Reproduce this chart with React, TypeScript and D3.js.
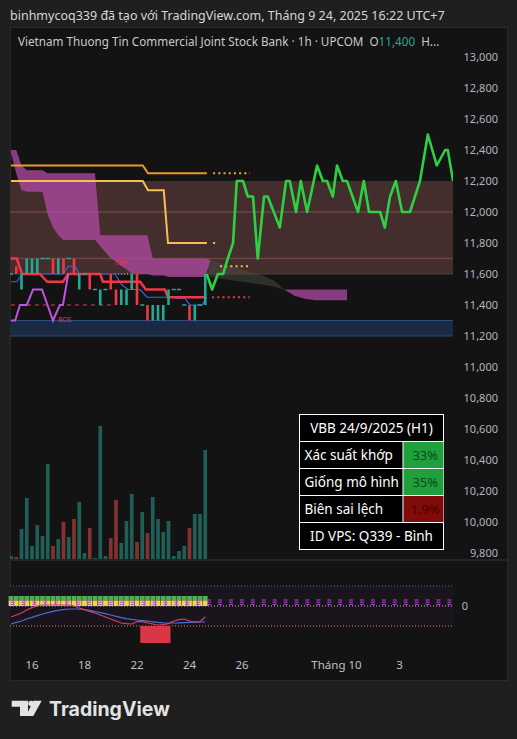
import React from "react";
import * as d3 from "d3";

// ---------- data ----------
const priceTicks = [13000, 12800, 12600, 12400, 12200, 12000, 11800, 11600, 11400, 11200, 11000, 10800, 10600, 10400, 10200, 10000, 9800];
const xTickIdx = [4, 14, 24, 34, 44, 62, 74];
const xTickLabels = ["16", "18", "22", "24", "26", "Tháng 10", "3"];

const candleOpen = [11600, 11650, 11500, 11600, 11600, 11600, 11700, 11700, 11700, 11600, 11700, 11700, 11700, 11500, 11600, 11600, 11500, 11400, 11500, 11600, 11500, 11400, 11400, 11500, 11600, 11400, 11400, 11300, 11300, 11300, 11400, 11500, 11500, 11400, 11400, 11300, 11400, 11400];
const candleClose = [11600, 11600, 11600, 11700, 11700, 11700, 11700, 11700, 11600, 11700, 11600, 11700, 11600, 11600, 11600, 11500, 11500, 11500, 11500, 11500, 11400, 11500, 11500, 11600, 11400, 11400, 11300, 11400, 11400, 11400, 11500, 11500, 11500, 11400, 11300, 11400, 11400, 11600];
const volume = [3, 2, 30, 61, 13, 34, 23, 95, 13, 20, 37, 22, 40, 57, 6, 31, 1, 133, 3, 21, 59, 16, 38, 65, 17, 47, 26, 62, 40, 27, 38, 3, 8, 13, 31, 45, 45, 109];

// Ichimoku-like cloud spans, bar index 0..64
const spanA = [12380, 12250, 12140, 12130, 12130, 12130, 12130, 11980, 11900, 11850, 11820, 11820, 11820, 11820, 11820, 11820, 11820, 11780, 11740, 11700, 11680, 11650, 11630, 11600, 11600, 11600, 11600, 11590, 11590, 11590, 11580, 11580, 11580, 11580, 11580, 11580, 11580, 11580,
  11690, 11680, 11670, 11660, 11650, 11640, 11630, 11620, 11610, 11600, 11590, 11575, 11560, 11530, 11500, 11480, 11460, 11450, 11440, 11435, 11430, 11430, 11430, 11430, 11430, 11430, 11430];
const spanB = [12400, 12400, 12300, 12270, 12270, 12270, 12270, 12250, 12250, 12250, 12250, 12250, 12250, 12250, 12250, 12250, 12250, 11850, 11850, 11850, 11850, 11850, 11850, 11850, 11850, 11850, 11850, 11700, 11700, 11700, 11700, 11700, 11700, 11700, 11700, 11700, 11700, 11700,
  11580, 11575, 11570, 11565, 11560, 11555, 11550, 11545, 11540, 11535, 11530, 11525, 11520, 11510, 11500, 11500, 11500, 11500, 11500, 11500, 11500, 11500, 11500, 11500, 11500, 11500, 11500];

// step lines [barIndex, price]
const orangeTop = [[0, 12300], [25.1, 12300], [26.1, 12250], [37.3, 12250]];
const orangeTopExt = [[38.5, 12250], [45.5, 12250]];
const orangeLow = [[0, 12200], [25.1, 12200], [26.1, 12140], [29.1, 12140], [29.9, 11800], [37.3, 11800]];
const orangeLowExt = [[38.5, 11800], [39.5, 11800]];
const yellowDots = [[39.8, 11650], [45.5, 11650]];
const baseLine = [[0, 11700], [1.1, 11700], [2.1, 11600], [5.5, 11600], [6.9, 11550], [9.9, 11550], [10.9, 11600], [17, 11600], [17.5, 11550], [24.6, 11550], [25.7, 11500], [29.3, 11500], [29.9, 11450], [37, 11450]];
const baseLineExt = [[38.3, 11450], [45.5, 11450]];
const convLine = [[0, 11550], [1.1, 11550], [2.1, 11600], [9.9, 11600], [10.9, 11650], [12.2, 11650], [13, 11600], [19.8, 11600], [21.1, 11530], [22.3, 11500], [24.6, 11500], [25.9, 11450], [30.7, 11450], [31.4, 11445], [33.1, 11445], [34.1, 11400], [36.4, 11400], [37.3, 11450]];
const swingLine = [[0, 11300], [0.8, 11300], [1.7, 11400], [3.0, 11400], [4.2, 11500], [5.9, 11500], [8.0, 11300], [9.3, 11400], [9.9, 11400], [10.9, 11600]];
const dashedLevel = [[0, 11400], [19.8, 11400]];
const whiteDots = [[19.8, 11600], [22.7, 11600]];

// projection
const projIdx = [37.3, 38.3, 39.4, 40.4, 41.3, 42.3, 43.0, 44.2, 45.1, 46.1, 47.0, 48.2, 48.9, 51.2, 52.4, 53.1, 54.3, 55.2, 56.4, 58.3, 59.4, 60.2, 61.3, 62.1, 63.2, 64.0, 66.1, 67.2, 68.2, 70.3, 71.2, 72.2, 73.3, 74.5, 76.0, 77.9, 79.4, 81.1, 82.7, 83.2, 84.2];
const projPrice = [11600, 11500, 11600, 11600, 11700, 11800, 12200, 12200, 12100, 12100, 11700, 12100, 12100, 11900, 12200, 12200, 12000, 12200, 12000, 12300, 12200, 12200, 12100, 12300, 12200, 12200, 12000, 12200, 12000, 12000, 11900, 12100, 12200, 12000, 12000, 12200, 12500, 12300, 12400, 12400, 12200];

// zones
const supplyZone = [11600, 12200];
const supplyLines = [12000, 11700];
const demandZone = [11200, 11300];

// oscillator
const oscBlue = [-90, -82, -75, -65, -57, -48, -40, -33, -27, -22, -18, -15, -15, -15, -18, -22, -28, -33, -38, -45, -52, -58, -63, -67, -70, -73, -76, -79, -82, -84, -85, -85, -84, -83, -82, -81, -80, -80];
const oscRed = [-55, -45, -35, -20, -8, 0, 5, 5, 5, 5, 5, 5, 0, -10, -18, -27, -35, -45, -55, -65, -75, -85, -88, -90, -78, -78, -85, -90, -95, -93, -88, -75, -68, -65, -75, -80, -78, -55];
const oscBox = [25, 30, -100, -185];

const tableTitle = "VBB 24/9/2025 (H1)";
const tableLabels = ["Xác suất khớp", "Giống mô hình", "Biên sai lệch"];
const tableValues = ["33%", "35%", "1.9%"];
const tableFooter = "ID VPS: Q339 - Bình";

// ---------- layout ----------
const W = 517, H = 739;
const PL = 10, PR = 453, PT = 27, PB = 559;
const FONT = "'Noto Sans', 'Liberation Sans', sans-serif";

export default function App() {
  const x = d3.scaleLinear().domain([0, 37]).range([11, 205.25]);
  const y = d3.scaleLinear().domain([9800, 13000]).range([553, 57]);
  const yv = d3.scaleLinear().domain([0, 133]).range([PB, PB - 133]);
  const yo = d3.scaleLinear().domain([-100, 100]).range([626, 586]);

  const ln = d3.line<number[]>().x(d => x(d[0])).y(d => y(d[1]));
  const idx = d3.range(spanA.length);
  const magentaArea = d3.area<number>().x(i => x(i)).y0(i => y(spanA[i])).y1(i => y(Math.max(spanA[i], spanB[i])));
  const grayArea = d3.area<number>().x(i => x(i)).y0(i => y(spanB[i])).y1(i => y(Math.max(spanA[i], spanB[i])));
  const projLine = d3.line<number>().x((_, k) => x(projIdx[k])).y(p => y(p));
  const oscLine = (arr: number[]) => d3.line<number>().x((_, i) => x(i)).y(v => yo(v))(arr) || "";
  const fmt = d3.format(",");

  const teal = "#22ab94", red = "#f23645";

  const tX = 299.5, tY = 414.5, tW = 144, rowH = 27, splitX = 403;

  return (
    <svg width={W} height={H} style={{ position: "fixed", left: 0, top: 0 }} fontFamily={FONT}>
      <defs>
        <clipPath id="plot"><rect x={PL} y={PT} width={PR - PL} height={PB - PT} /></clipPath>
      </defs>
      <rect width={W} height={H} fill="#1f1f1f" />
      <text x={10} y={20} fill="#d6d6d6" fontSize={12.5}>binhmycoq339 đã tạo với TradingView.com, Tháng 9 24, 2025 16:22 UTC+7</text>
      <rect x={10.5} y={27.5} width={497} height={653} fill="#131313" stroke="#2a2a2a" />
      {/* panes separator */}
      <rect x={PL} y={PB} width={497} height={2} fill="#242424" />

      <g clipPath="url(#plot)">
        {/* supply zone */}
        <rect x={PL} y={y(supplyZone[1])} width={PR - PL} height={y(supplyZone[0]) - y(supplyZone[1])} fill="#432d2d" />
        {supplyLines.map((p, i) => <line key={i} x1={PL} x2={PR} y1={y(p)} y2={y(p)} stroke="#6e4545" strokeWidth={1.5} />)}
        <line x1={PL} x2={PR} y1={y(supplyZone[0])} y2={y(supplyZone[0])} stroke="#5a3a3a" strokeWidth={1} />
        {/* demand zone */}
        <rect x={PL} y={y(demandZone[1])} width={PR - PL} height={y(demandZone[0]) - y(demandZone[1])} fill="#1b2942" />
        <line x1={PL} x2={PR} y1={y(demandZone[1])} y2={y(demandZone[1])} stroke="#2c4a7e" strokeWidth={1} />
        <line x1={PL} x2={PR} y1={y(demandZone[0])} y2={y(demandZone[0])} stroke="#2c4a7e" strokeWidth={1} />

        {/* cloud */}
        <path d={grayArea(idx) || ""} fill="#4a4e44" opacity={0.5} />
        <path d={magentaArea(idx) || ""} fill="#b24aa5" opacity={0.75} />

        {/* volume */}
        {volume.map((v, i) => (
          <rect key={i} x={x(i) - 1.85} y={yv(v)} width={3.7} height={PB - yv(v)} fill={candleClose[i] < candleOpen[i] ? "#813331" : "#1f5f57"} />
        ))}

        {/* orange lines */}
        <path d={ln(orangeTop as any) || ""} fill="none" stroke="#f0962e" strokeWidth={2} />
        <path d={ln(orangeTopExt as any) || ""} fill="none" stroke="#f0a640" strokeWidth={2} strokeDasharray="2,3.2" />
        <path d={ln(orangeLow as any) || ""} fill="none" stroke="#f5bf4f" strokeWidth={2} />
        <path d={ln(orangeLowExt as any) || ""} fill="none" stroke="#f5bf4f" strokeWidth={2} strokeDasharray="2,3.2" />
        <path d={ln(yellowDots as any) || ""} fill="none" stroke="#f5c04f" strokeWidth={2} strokeDasharray="2,3.2" />

        {/* structure lines */}
        <path d={ln(dashedLevel as any) || ""} fill="none" stroke={red} strokeWidth={1} strokeDasharray="4,4" />
        <path d={ln(whiteDots as any) || ""} fill="none" stroke="#cccccc" strokeWidth={1} strokeDasharray="1,2" />
        <path d={ln(convLine as any) || ""} fill="none" stroke="#2f6be8" strokeWidth={1.2} />
        <path d={ln(baseLine as any) || ""} fill="none" stroke={red} strokeWidth={2.5} />
        <path d={ln(baseLineExt as any) || ""} fill="none" stroke={red} strokeWidth={2} strokeDasharray="2,3.2" />
        <path d={ln(swingLine as any) || ""} fill="none" stroke="#c053e0" strokeWidth={2} />
        <text x={x(9)} y={y(11300)} fill={red} fontSize={6.5} dy={1}>BOS</text>
        <text x={x(19.8)} y={y(11660)} fill={red} fontSize={6.5} opacity={0.8}>CHP</text>

        {/* candles */}
        {candleOpen.map((o, i) => {
          const c = candleClose[i];
          const col = c < o ? red : teal;
          if (o === c) return <rect key={i} x={x(i) - 2} y={y(c) - 0.75} width={4} height={1.5} fill={col} />;
          return <rect key={i} x={x(i) - 1.3} y={y(Math.max(o, c))} width={2.6} height={Math.abs(y(o) - y(c))} fill={col} />;
        })}

        {/* projection */}
        <path d={projLine(projPrice) || ""} fill="none" stroke="#2ed043" strokeWidth={2.6} strokeLinejoin="round" />
      </g>

      {/* price axis */}
      {priceTicks.map(p => (
        <text key={p} x={498} y={y(p)} dy="0.35em" textAnchor="end" fill="#b2b5be" fontSize={11}>{fmt(p)}</text>
      ))}

      {/* legend title */}
      <text x={18} y={46} fill="#c9c9c9" fontSize={11.7} style={{ whiteSpace: "pre" }}>
        {"Vietnam Thuong Tin Commercial Joint Stock Bank · 1h · UPCOM  O"}<tspan fill="#22ab94">11,400</tspan>{"  H..."}
      </text>

      {/* table */}
      <g>
        <rect x={tX} y={tY} width={tW} height={rowH * 5} fill="#000" stroke="#fff" strokeWidth={1} />
        {tableValues.map((v, k) => (
          <rect key={k} x={splitX} y={tY + rowH * (k + 1)} width={tX + tW - splitX} height={rowH} fill={k < 2 ? "#20a03c" : "#7f0b0b"} />
        ))}
        {d3.range(1, 5).map(r => <line key={r} x1={tX} x2={tX + tW} y1={tY + rowH * r} y2={tY + rowH * r} stroke="#fff" />)}
        <line x1={splitX} x2={splitX} y1={tY + rowH} y2={tY + rowH * 4} stroke="#fff" />
        <text x={tX + tW / 2} y={tY + rowH / 2} dy="0.35em" textAnchor="middle" fill="#fff" fontSize={13.5}>{tableTitle}</text>
        {tableLabels.map((t, k) => (
          <text key={t} x={tX + 5} y={tY + rowH * (k + 1.5)} dy="0.35em" fill="#fff" fontSize={13.5}>{t}</text>
        ))}
        {tableValues.map((t, k) => (
          <text key={t} x={(splitX + tX + tW) / 2 + 2} y={tY + rowH * (k + 1.5)} dy="0.35em" textAnchor="middle" fill={k < 2 ? "#0b4d18" : "#4d0000"} fontSize={13}>{t}</text>
        ))}
        <text x={tX + tW / 2} y={tY + rowH * 4.5} dy="0.35em" textAnchor="middle" fill="#fff" fontSize={13.5}>{tableFooter}</text>
      </g>

      {/* oscillator pane */}
      <rect x={PL} y={yo(100)} width={PR - PL} height={yo(-100) - yo(100)} fill="#1a141c" />
      <line x1={PL} x2={PR} y1={yo(100)} y2={yo(100)} stroke="#2a7c78" strokeDasharray="1,2" />
      <line x1={PL} x2={PR} y1={yo(0)} y2={yo(0)} stroke="#bbbbbb" strokeDasharray="1,2" />
      <line x1={PL} x2={PR} y1={yo(-100)} y2={yo(-100)} stroke="#d08a2c" strokeDasharray="1,2" />
      {candleOpen.map((_, i) => (
        <g key={i}>
          <rect x={x(i) - 2.4} y={596} width={4.8} height={4.5} fill="#4caf50" />
          <rect x={x(i) - 2.4} y={600.5} width={4.8} height={5.5} fill="#e8d84a" />
        </g>
      ))}
      {d3.range(0.3, 84, 2.08).map((i, k) => (
        <g key={k} fill="#b64ad8">
          <rect x={x(i) - 2} y={599.5} width={4} height={1} />
          <rect x={x(i) - 2} y={601.7} width={4} height={1} />
          <rect x={x(i) - 2} y={603.9} width={4} height={1} />
        </g>
      ))}
      <path d={oscLine(oscBlue)} fill="none" stroke="#4a6cd4" strokeWidth={1.2} />
      <path d={oscLine(oscRed)} fill="none" stroke="#d4416a" strokeWidth={1.2} />
      <rect x={x(oscBox[0]) - 2} y={yo(oscBox[2])} width={x(oscBox[1]) - x(oscBox[0]) + 4} height={yo(oscBox[3]) - yo(oscBox[2])} fill="#d93647" />
      <text x={465} y={yo(0)} dy="0.35em" textAnchor="middle" fill="#b2b5be" fontSize={11}>0</text>

      {/* time axis */}
      {xTickIdx.map((i, k) => (
        <text key={k} x={x(i)} y={665} dy="0.35em" textAnchor="middle" fill="#c0c0c0" fontSize={11.5}>{xTickLabels[k]}</text>
      ))}

      {/* logo */}
      <g fill="#e3e3e3">
        <path d="M11.7 700.7 H28 V716 H20 V706.7 H11.7 Z" />
        <circle cx={31} cy={703.4} r={2.7} />
        <path d="M33.3 700.7 H41.7 L33.3 716 H26 Z" />
      </g>
      <text x={49} y={716} fill="#e3e3e3" fontSize={19.5} fontWeight={700} fontFamily="Inter, 'Noto Sans', sans-serif">TradingView</text>
    </svg>
  );
}
